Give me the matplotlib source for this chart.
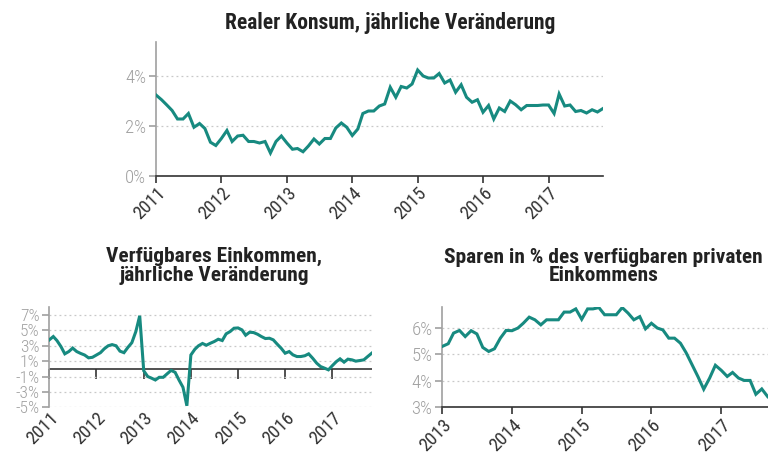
import numpy as np
import pandas as pd
import matplotlib
matplotlib.use("Agg")
import matplotlib.pyplot as plt
import matplotlib.dates as mdates

# schmale Schrift wie im Original, mit Ersatz falls nicht vorhanden
plt.rcParams["font.family"] = ["Roboto Condensed", "IBM Plex Sans Condensed", "DejaVu Sans"]

TEAL = "#178a80"
GREY = "#a0a0a0"
DARK = "#333333"

# Realer Konsum, jährliche Veränderung (%), monatlich ab Jan 2011
konsum = [3.24, 3.05, 2.85, 2.62, 2.28, 2.28, 2.5, 1.95, 2.1, 1.9, 1.35, 1.22,
          1.5, 1.82, 1.38, 1.6, 1.63, 1.38, 1.38, 1.32, 1.38, 0.92, 1.38, 1.6,
          1.32, 1.07, 1.1, 0.97, 1.2, 1.48, 1.28, 1.5, 1.5, 1.92, 2.12, 1.95,
          1.62, 1.88, 2.5, 2.6, 2.6, 2.8, 2.88, 3.55, 3.15, 3.58, 3.52, 3.68,
          4.24, 4.0, 3.92, 3.92, 4.1, 3.72, 3.84, 3.35, 3.65, 3.15, 2.95, 3.05,
          2.55, 2.82, 2.28, 2.72, 2.58, 3.0, 2.85, 2.65, 2.82, 2.82, 2.82, 2.84,
          2.84, 2.5, 3.28, 2.8, 2.84, 2.58, 2.62, 2.52, 2.65, 2.56, 2.7]

# Verfügbares Einkommen, jährliche Veränderung (%), monatlich ab Jan 2011
einkommen = [3.77, 4.2, 3.68, 2.9, 1.95, 2.25, 2.7, 2.25, 2.0, 1.8, 1.43, 1.5,
             1.8, 2.1, 2.6, 3.0, 3.15, 3.0, 2.3, 2.1, 2.8, 3.4, 4.85, 6.9,
             -0.25, -1.0, -1.2, -1.45, -1.1, -1.1, -0.65, -0.2, -0.45, -1.45, -2.4, -4.8,
             1.8, 2.55, 3.0, 3.3, 3.07, 3.33, 3.55, 3.85, 3.68, 4.55, 4.85, 5.28,
             5.32, 5.06, 4.37, 4.76, 4.72, 4.5, 4.2, 3.94, 3.98, 3.77, 3.2, 2.68,
             2.03, 2.25, 1.82, 1.6, 1.6, 1.7, 1.95, 1.38, 0.74, 0.3, 0.09, -0.13,
             0.43, 0.95, 1.3, 0.87, 1.26, 1.17, 1.0, 1.08, 1.17, 1.6, 2.03]

# Sparquote in % des verfügbaren Einkommens, monatlich ab Jan 2013
sparen = [5.29, 5.39, 5.79, 5.89, 5.66, 5.88, 5.76, 5.25, 5.1, 5.2, 5.6, 5.89,
          5.88, 5.98, 6.16, 6.39, 6.29, 6.1, 6.29, 6.29, 6.29, 6.58, 6.58, 6.7,
          6.31, 6.7, 6.7, 6.75, 6.48, 6.48, 6.48, 6.75, 6.54, 6.29, 6.41, 5.95,
          6.16, 5.98, 5.91, 5.6, 5.6, 5.41, 5.05, 4.6, 4.15, 3.68, 4.1, 4.58,
          4.39, 4.16, 4.31, 4.1, 4.01, 4.01, 3.49, 3.69, 3.4]

d_konsum = pd.date_range("2011-01-01", periods=len(konsum), freq="MS")
d_eink = pd.date_range("2011-01-01", periods=len(einkommen), freq="MS")
d_spar = pd.date_range("2013-01-01", periods=len(sparen), freq="MS")


def style_axis(ax, dates, vals, yticks, ylim, ysize=13.5):
    ax.plot(dates, vals, color=TEAL, lw=2.2, solid_joinstyle="miter", zorder=3)
    ax.set_xlim(dates[0], dates[-1])
    ax.set_ylim(*ylim)
    ax.set_yticks(yticks)
    ax.set_yticklabels([f"{t}%" for t in yticks])
    ax.yaxis.grid(True, ls=(0, (1.5, 2.5)), color="#c8c8c8", lw=0.9)
    ax.set_axisbelow(True)
    for s in ("top", "right"):
        ax.spines[s].set_visible(False)
    ax.spines["left"].set_color(GREY)
    ax.spines["left"].set_linewidth(1.2)
    ax.spines["bottom"].set_color(DARK)
    ax.spines["bottom"].set_linewidth(1.2)
    ax.xaxis.set_major_locator(mdates.YearLocator())
    ax.xaxis.set_major_formatter(mdates.DateFormatter("%Y"))
    ax.tick_params(axis="y", colors=GREY, length=5, width=1.2, labelsize=ysize, pad=2)
    ax.tick_params(axis="x", colors=DARK, length=5, width=1.2, labelsize=13.5, pad=1)
    for lab in ax.get_yticklabels():
        lab.set_fontweight("light")
    for lab in ax.get_xticklabels():
        lab.set_rotation(45)
        lab.set_ha("right")
        lab.set_rotation_mode("anchor")
        lab.set_color(DARK)


fig = plt.figure(figsize=(7.68, 4.54), dpi=100)

# Realer Konsum
ax1 = fig.add_axes([156 / 768, 1 - 176 / 454, 447 / 768, 134 / 454])
style_axis(ax1, d_konsum, konsum, [0, 2, 4], (0, 5.36))
ax1.set_title("Realer Konsum, jährliche Veränderung", fontsize=15.5, x=0.523,
              fontweight="bold", color="#222222", pad=9)

# Verfügbares Einkommen
ax2 = fig.add_axes([49.3 / 768, 1 - 407.3 / 454, 322.4 / 768, 100.3 / 454])
style_axis(ax2, d_eink, einkommen, [-5, -3, -1, 1, 3, 5, 7], (-5, 8.04), ysize=12.5)
ax2.spines["bottom"].set_visible(False)
ax2.tick_params(axis="x", length=0)
ax2.axhline(0, color=DARK, lw=1.2, zorder=2)
sec = ax2.secondary_xaxis(0, transform=ax2.transData)
sec.spines["bottom"].set_visible(False)
sec.xaxis.set_major_locator(mdates.YearLocator())
sec.tick_params(axis="x", length=7, width=1.2, color=DARK, labelbottom=False)
ax2.set_title("Verfügbares Einkommen,\njährliche Veränderung", fontsize=15.4, x=0.512,
              fontweight="bold", color="#222222", pad=19, linespacing=0.95)

# Sparquote
ax3 = fig.add_axes([442.3 / 768, 1 - 407.3 / 454, 325.4 / 768, 100 / 454])
style_axis(ax3, d_spar, sparen, [3, 4, 5, 6], (3, 6.76))
ax3.set_title("Sparen in % des verfügbaren privaten\nEinkommens", fontsize=15.4, x=0.495,
              fontweight="bold", color="#222222", pad=19, linespacing=0.95)

fig.savefig("out.png", dpi=100)
